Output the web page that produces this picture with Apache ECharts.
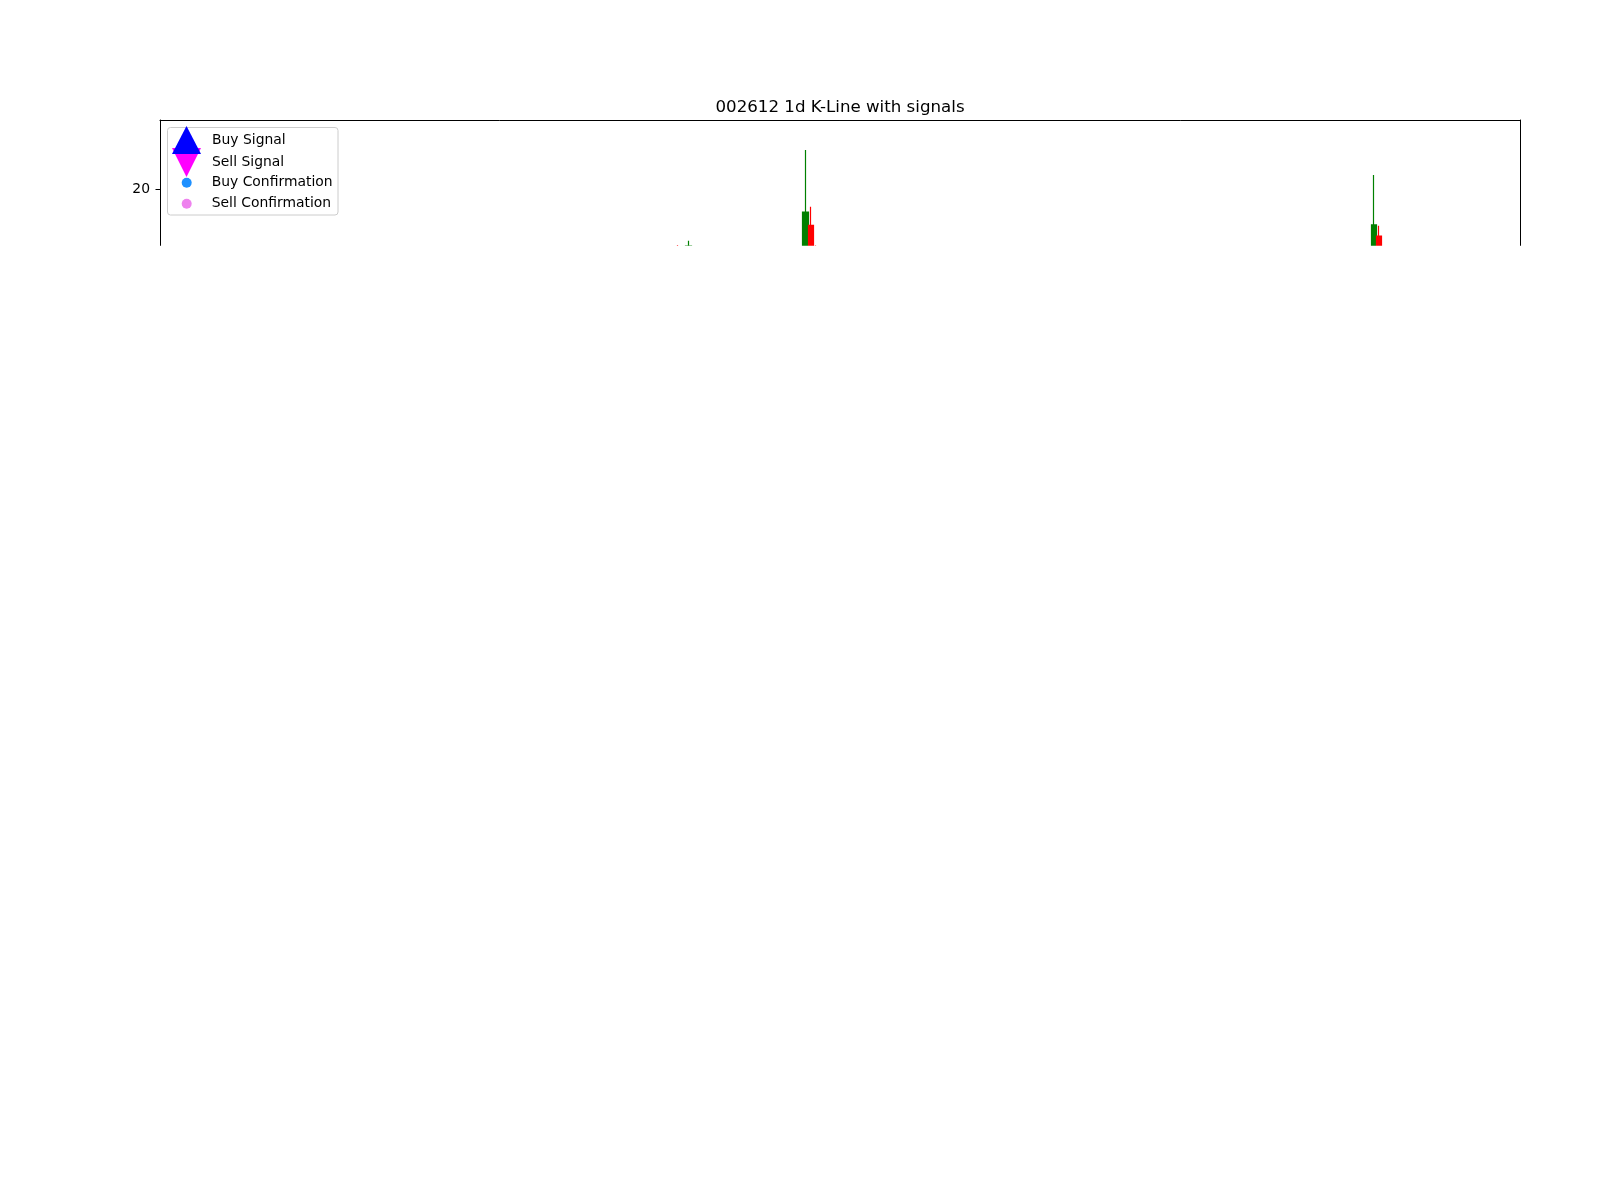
<!DOCTYPE html>
<html>
<head>
<meta charset="utf-8">
<script src="https://cdn.jsdelivr.net/npm/echarts@6/dist/echarts.min.js"></script>
<style>
  html, body { margin: 0; background: #fff; }
  #chart { width: 1600px; height: 1200px; }
</style>
</head>
<body>
<div id="chart"></div>
<script>
// trading days on the x axis (no labels are shown in the picture)
const dayCount = 256;
const days = Array.from({ length: dayCount }, (_, i) => "D" + (i + 1));

// the only candles that reach into the visible window
const candleDays  = [97, 99, 121, 122, 123, 228, 229];
const candleOpen  = [12.6, 12.6, 12.7, 15.5, 12.8, 12.8, 14.16];
const candleClose = [12.4, 12.9, 17.16, 12.8, 12.6, 15.54, 12.7];
const candleLow   = [12.2, 12.4, 12.5, 12.6, 12.5, 12.6, 12.5];
const candleHigh  = [13.0, 13.57, 24.9, 17.83, 12.98, 21.79, 15.45];

// signal markers (none fall inside the visible window)
const buySignals = [];
const sellSignals = [];
const buyConfirm = [];
const sellConfirm = [];

const yTicks = [20];
const yMin = 0;
const yMax = 28.66;

const ohlc = days.map(() => "-");
candleDays.forEach((d, k) => {
  ohlc[d] = [candleOpen[k], candleClose[k], candleLow[k], candleHigh[k]];
});

const chart = echarts.init(document.getElementById("chart"));
const font = "DejaVu Sans";

const legendText = (padBottom, padLeft) => ({
  color: "#000",
  fontFamily: font,
  fontSize: 13.9,
  padding: [0, 0, padBottom, padLeft],
});

const option = {
  animation: false,
  title: {
    text: "002612 1d K-Line with signals",
    left: 840,
    top: 99.5,
    padding: 0,
    textAlign: "center",
    textStyle: { color: "#000", fontFamily: font, fontSize: 16.67, fontWeight: "normal" },
  },
  // the axes runs on below; everything under y=245.7 is blanked out like the source image
  grid: { left: 160, right: 80, top: 120, height: 229.3 },
  legend: [
    {
      data: [{ name: "Buy Signal", icon: "triangle" }],
      left: 172, top: 126, padding: 0, itemWidth: 29, itemHeight: 28,
      selectedMode: false, z: 6, textStyle: legendText(8, 6),
    },
    {
      data: [{ name: "Sell Signal", icon: "path://M0,0L2,0L1,2Z" }],
      left: 172, top: 148, padding: 0, itemWidth: 29, itemHeight: 29,
      selectedMode: false, z: 5, textStyle: legendText(9.5, 6),
    },
    {
      data: [{ name: "Buy Confirmation", icon: "circle" }],
      left: 181.7, top: 175.8, padding: 0, itemWidth: 10, itemHeight: 20,
      selectedMode: false, z: 5, textStyle: legendText(6.5, 15),
    },
    {
      data: [{ name: "Sell Confirmation", icon: "circle" }],
      left: 181.7, top: 196.8, padding: 0, itemWidth: 10, itemHeight: 20,
      selectedMode: false, z: 5, textStyle: legendText(6.5, 15),
    },
  ],
  graphic: [
    {
      type: "rect",
      z: 3,
      shape: { x: 167.5, y: 127.5, width: 170.5, height: 87.5, r: 3 },
      style: { fill: "rgba(255,255,255,0.8)", stroke: "#cccccc", lineWidth: 1 },
    },
    {
      type: "rect",
      z: 100,
      shape: { x: 0, y: 245.7, width: 1600, height: 960 },
      style: { fill: "#ffffff" },
    },
  ],
  xAxis: [
    {
      type: "category",
      data: days,
      boundaryGap: true,
      axisLine: { show: false },
      axisTick: { show: false },
      axisLabel: { show: false },
      splitLine: { show: false },
    },
    {
      type: "category",
      data: days,
      position: "top",
      axisLine: { show: true, onZero: false, lineStyle: { color: "#000", width: 1 } },
      axisTick: { show: false },
      axisLabel: { show: false },
      splitLine: { show: false },
    },
  ],
  yAxis: [
    {
      type: "value",
      min: yMin,
      max: yMax,
      axisLine: { show: true, onZero: false, lineStyle: { color: "#000", width: 1 } },
      axisTick: { show: true, customValues: yTicks, length: 4.5, lineStyle: { color: "#000", width: 1 } },
      axisLabel: { customValues: yTicks, color: "#000", fontFamily: font, fontSize: 13.9, margin: 10 },
      splitLine: { show: false },
    },
    {
      type: "value",
      position: "right",
      min: yMin,
      max: yMax,
      axisLine: { show: true, onZero: false, lineStyle: { color: "#000", width: 1 } },
      axisTick: { show: false },
      axisLabel: { show: false },
      splitLine: { show: false },
    },
  ],
  series: [
    {
      name: "K-Line",
      type: "candlestick",
      xAxisIndex: 0,
      yAxisIndex: 0,
      data: ohlc,
      barWidth: 6,
      itemStyle: {
        color: "#008000",
        color0: "#ff0000",
        borderColor: "#008000",
        borderColor0: "#ff0000",
        borderWidth: 1.2,
      },
    },
    { name: "Buy Signal", type: "scatter", data: buySignals, itemStyle: { color: "#0000ff", opacity: 1 } },
    { name: "Sell Signal", type: "scatter", data: sellSignals, itemStyle: { color: "#ff00ff", opacity: 1 } },
    { name: "Buy Confirmation", type: "scatter", data: buyConfirm, itemStyle: { color: "#1e90ff", opacity: 1 } },
    { name: "Sell Confirmation", type: "scatter", data: sellConfirm, itemStyle: { color: "#ee82ee", opacity: 1 } },
  ],
};

chart.setOption(option);
</script>
</body>
</html>
